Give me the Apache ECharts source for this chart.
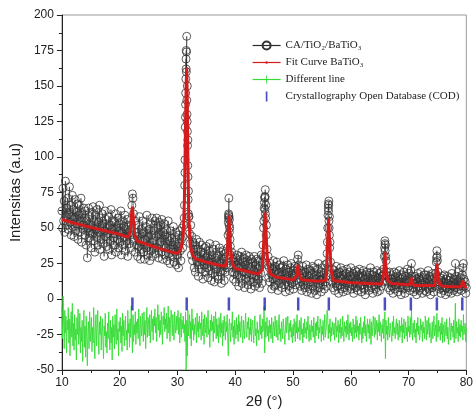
<!DOCTYPE html>
<html><head><meta charset="utf-8">
<script src="https://cdn.jsdelivr.net/npm/echarts@6/dist/echarts.min.js"></script>
<style>html,body{margin:0;padding:0;background:#fff}#c{width:476px;height:414px}</style>
</head><body><div id="c"></div>
<script>
// Observed intensity, 2theta from 10 to 80 in 0.1 steps (one row per degree)
const obsStart = 10, obsStep = 0.1;
const obsY = [
62,50,78,55,69,47,83,58,64,52,
71,49,60,79,54,66,45,58,73,51,
63,44,57,70,48,61,53,67,42,59,
66,47,55,71,40,60,52,49,64,57,
45,62,38,55,29,50,64,43,58,47,
52,36,61,46,65,41,55,33,59,49,
44,63,38,54,47,66,35,57,42,51,
60,39,53,30,48,62,44,56,37,50,
46,58,35,52,41,63,31,49,55,43,
38,54,46,60,33,50,42,57,36,48,
53,40,62,31,47,55,38,51,44,59,
34,49,41,56,30,46,52,39,45,36,
52,66,74,71,60,42,55,33,47,38,
44,30,52,37,58,41,28,49,35,46,
55,33,47,28,42,51,36,59,31,44,
38,49,27,53,34,45,57,30,41,36,
48,55,32,44,57,36,50,29,46,54,
40,52,33,56,28,47,38,53,31,45,
36,49,27,44,55,32,41,25,48,35,
43,30,38,51,26,40,33,47,24,37,
31,45,22,39,48,34,27,42,50,36,
44,52,66,98,137,162,185,150,112,76,
58,46,39,52,31,44,27,40,35,22,
38,19,31,42,26,35,16,29,40,24,
33,21,38,27,14,32,24,36,19,29,
37,22,30,15,34,26,39,20,28,13,
31,18,35,24,12,29,38,21,27,16,
30,14,26,36,19,33,11,25,34,20,
28,13,32,19,24,30,22,36,54,71,
56,42,31,24,33,19,28,14,26,18,
29,12,24,31,17,27,9,22,30,15,
23,33,11,26,19,29,8,24,14,31,
18,27,10,25,30,13,22,7,28,17,
26,12,20,30,9,24,16,28,11,21,
14,27,8,23,18,31,11,26,38,50,
64,72,77,66,52,35,24,30,15,22,
12,25,18,7,21,14,27,9,19,23,
10,20,26,13,6,18,24,11,16,22,
19,8,23,14,27,10,17,5,21,12,
15,24,9,19,6,22,13,25,11,17,
20,7,16,23,10,18,13,22,28,31,
24,17,9,20,12,6,18,23,10,15,
8,19,13,24,5,17,21,11,16,7,
20,12,4,18,23,9,15,22,6,14,
17,3,21,11,25,8,16,13,19,5,
14,22,10,18,7,24,12,16,9,32,
50,64,69,58,40,26,18,12,21,8,
15,20,6,17,11,23,9,18,13,4,
19,10,16,22,7,14,20,5,17,12,
8,18,13,21,6,15,11,19,9,16,
22,7,14,10,18,4,16,12,20,8,
13,19,6,17,11,21,9,15,5,18,
10,16,20,7,14,3,17,12,19,9,
15,6,18,11,22,8,13,17,4,14,
19,10,16,7,13,20,5,15,11,18,
6,14,19,9,16,12,17,21,30,41,
38,27,19,12,16,8,14,19,6,12,
17,9,14,4,12,19,7,15,10,18,
11,16,5,13,20,8,14,3,17,10,
15,7,19,12,4,16,9,13,21,8,
12,18,6,14,20,25,16,8,13,5,
11,16,7,14,3,12,18,9,15,6,
13,19,8,11,4,15,10,17,6,12,
17,5,14,9,20,7,12,16,3,10,
14,8,18,11,5,15,9,18,26,34,
27,19,12,7,15,10,4,13,8,16,
6,12,17,9,3,14,8,16,11,5,
13,7,15,10,4,18,9,12,6,14,
10,25,8,16,5,12,19,7,13,9,
15,6,11,17,22,25,14,9,12,4,
8
];
// Extra observed points recorded densely across the peaks
const obsPeakExtra = [
[31.15,57],[31.25,80],[31.3,89],[31.35,121],[31.38,128],[31.42,145],[31.45,155],[31.48,169],
[31.52,175],[31.55,160],[31.57,174],[31.62,140],[31.65,130],[31.68,125],[31.72,118],[31.75,108],
[31.78,94],[31.82,86],[31.85,70],[31.88,60],[31.95,58],
[38.75,45],[38.82,57],[38.85,60],[38.88,59],[38.92,58],[38.95,52],[38.98,47],[39.05,50],[39.15,37],
[44.85,30],[44.95,55],[45.05,68],[45.12,71],[45.15,63],[45.18,72],[45.22,60],[45.25,57],[45.35,45],
[55.85,25],[55.95,40],[56.05,59],[56.12,67],[56.15,62],[56.18,66],[56.22,55],[56.25,50],[56.3,45],[56.35,36],
[65.85,36],[65.92,39],[65.95,34],[66.05,30],
[74.85,29],[74.95,30]
];
// Fitted BaTiO3 curve
const fitCurve = [
[10,56],[12,53.5],[14,51.5],[16,49.5],[18,47.5],[20,45.5],[21.5,43.5],[21.8,47],[22.0,58],[22.2,65],
[22.4,55],[22.6,45],[23,41],[25,38],[27,35.5],[29,33],[30,32],[30.6,35],[31,45],[31.2,70],
[31.35,110],[31.5,150],[31.6,163],[31.7,140],[31.8,100],[31.95,60],[32.2,38],[32.6,31],[33,28.5],[35,26],
[37,24],[38.3,23],[38.6,30],[38.8,50],[38.9,59],[39.0,52],[39.2,35],[39.5,25],[40,21.5],[42,19.5],
[44,17.5],[44.7,21],[44.95,42],[45.15,61],[45.35,45],[45.6,26],[46,18],[47,15.5],[50,13.5],[50.6,16],
[50.85,24],[51.1,17],[51.5,13.5],[54,12.5],[55.7,13],[55.95,35],[56.15,57],[56.35,40],[56.6,20],[57,13],
[60,11.5],[65.4,10.5],[65.7,18],[65.9,33],[66.1,22],[66.4,13],[67,11],[70.2,10],[70.45,15],[70.7,11],
[71,9.5],[74.5,9.5],[74.75,18],[74.9,25],[75.1,16],[75.4,10],[76,9],[79.1,8.5],[79.35,13],[79.6,10],[80,7.5]
];
// Difference line, same 2theta grid as obsY
const diffY = [
-5,-28,2,-18,-35,-8,-24,-12,-38,-15,
-22,-6,-31,-14,-40,-19,-9,-27,-3,-33,
-17,-36,-11,-29,-21,-43,-13,-25,-7,-32,
-26,-10,-38,-20,-30,-15,-44,-23,-8,-34,
-19,-41,-12,-28,-47,-22,-16,-35,-9,-30,
-24,-13,-37,-20,-31,-6,-27,-42,-18,-11,
-33,-21,-8,-29,-39,-16,-25,-12,-36,-22,
-14,-30,-42,-19,-26,-10,-34,-23,-38,-17,
-28,-9,-24,-36,-15,-31,-20,-43,-12,-27,
-18,-35,-11,-25,-32,-7,-29,-21,-40,-16,
-23,-13,-31,-19,-37,-10,-26,-15,-33,-20,
-12,-29,-22,-36,-8,-24,-17,-34,-14,-27,
-5,-21,-38,-11,-30,-18,-25,-9,-32,-16,
-24,-14,-28,-7,-22,-33,-12,-19,-26,-10,
-20,-30,-9,-25,-15,-35,-18,-6,-27,-13,
-17,-26,-11,-31,-21,-8,-23,-14,-29,-12,
-19,-7,-24,-13,-30,-16,-4,-22,-11,-27,
-15,-25,-9,-20,-32,-12,-18,-6,-23,-14,
-21,-10,-28,-16,-5,-24,-13,-30,-17,-8,
-14,-26,-11,-20,-29,-9,-18,-24,-12,-22,
-16,-8,-25,-13,-31,-19,-10,-27,-15,-21,
-12,-24,-18,-30,-9,-50,-15,-40,-8,-26,
-20,-11,-28,-16,-33,-7,-22,-14,-29,-18,
-25,-13,-19,-31,-10,-23,-16,-27,-12,-21,
-17,-29,-9,-22,-26,-14,-32,-11,-20,-24,
-13,-27,-18,-8,-25,-21,-34,-15,-23,-11,
-22,-16,-30,-12,-24,-19,-9,-28,-14,-26,
-18,-31,-13,-21,-27,-10,-24,-17,-33,-15,
-26,-12,-20,-29,-16,-23,-11,-28,-40,-19,
-14,-24,-30,-17,-22,-9,-27,-19,-32,-15,
-21,-28,-13,-25,-18,-30,-11,-23,-16,-27,
-19,-12,-26,-31,-15,-22,-28,-17,-10,-24,
-27,-16,-21,-13,-29,-20,-25,-14,-30,-18,
-15,-23,-31,-19,-12,-26,-21,-33,-16,-24,
-22,-29,-17,-11,-25,-19,-28,-14,-23,-18,
-5,-38,-16,-27,-21,-13,-26,-19,-30,-15,
-24,-18,-28,-13,-22,-31,-16,-20,-26,-12,
-19,-27,-15,-23,-29,-17,-11,-25,-21,-30,
-16,-22,-28,-14,-20,-26,-32,-18,-13,-24,
-25,-12,-21,-29,-17,-23,-15,-27,-20,-31,
-18,-26,-14,-22,-30,-16,-24,-11,-28,-20,
-23,-15,-29,-19,-13,-25,-21,-31,-17,-27,
-14,-24,-20,-28,-16,-22,-12,-26,-30,-18,
-21,-29,-15,-23,-19,-27,-13,-25,-31,-17,
-26,-16,-22,-12,-28,-20,-24,-14,-18,-30,
-19,-25,-15,-29,-21,-11,-27,-23,-17,-8,
-12,-28,-18,-24,-14,-30,-20,-26,-16,-22,
-25,-17,-29,-21,-13,-27,-19,-23,-15,-31,
-18,-24,-14,-28,-20,-26,-12,-22,-30,-16,
-23,-19,-27,-15,-25,-11,-21,-29,-17,-24,
-16,-26,-20,-30,-14,-22,-28,-18,-24,-12,
-27,-15,-23,-19,-29,-17,-25,-13,-21,-31,
-20,-28,-16,-24,-12,-26,-18,-30,-22,-14,
-24,-18,-28,-14,-22,-32,-16,-26,-20,-12,
-19,-27,-13,-25,-21,-15,-29,-17,-23,-11,
-26,-16,-22,-30,-18,-24,-14,-28,-20,-9,
-42,-15,-25,-19,-29,-13,-23,-27,-17,-21,
-22,-30,-16,-26,-12,-24,-20,-28,-18,-14,
-25,-17,-29,-21,-15,-27,-19,-23,-13,-31,
-18,-24,-14,-28,-22,-16,-26,-20,-30,-12,
-23,-19,-27,-13,-25,-8,-21,-29,-17,-24,
-15,-27,-21,-31,-17,-23,-13,-25,-19,-29,
-26,-14,-22,-18,-30,-16,-24,-20,-28,-12,
-19,-29,-15,-25,-21,-13,-27,-17,-23,-31,
-24,-16,-28,-20,-12,-26,-22,-18,-30,-10,
-21,-27,-15,-23,-19,-29,-17,-25,-13,-31,
-18,-24,-30,-16,-22,-26,-14,-28,-20,-32,
-25,-13,-21,-29,-17,-23,-19,-27,-15,-31,
-22,-3,-28,-16,-24,-20,-30,-14,-26,-18,
-27,-15,-23,-19,-29,-11,-25,-21,-17,-30,
-20
];
// COD reference reflections (2theta) and the level they are drawn at
const codPos = [22.2, 31.6, 38.9, 45.1, 50.9, 56.2, 65.9, 70.4, 74.9, 79.3];
const codLevel = -3.5;
const xTicks = {min: 10, max: 80, interval: 10};
const yTicks = {min: -50, max: 200, interval: 25};
const names = ['CA/TiO\u2082/BaTiO\u2083', 'Fit Curve BaTiO\u2083', 'Different line', 'Crystallography Open Database (COD)'];

const gridX = i => +(obsStart + i * obsStep).toFixed(2);
const obsData = obsY.map((v, i) => [gridX(i), v]).concat(obsPeakExtra).sort((a, b) => a[0] - b[0]);
const diffData = diffY.map((v, i) => [gridX(i), v]);
const codData = codPos.map(x => [x, codLevel]);

const axisCol = '#222';
const sans = 'Liberation Sans, Arial, sans-serif';
function axisCommon() {
  return {
    type: 'value',
    axisLine: {show: true, onZero: false, lineStyle: {color: axisCol, width: 1}},
    axisTick: {show: true, inside: false, length: 5, lineStyle: {color: axisCol}},
    minorTick: {show: true, splitNumber: 2, length: 3, lineStyle: {color: axisCol}},
    splitLine: {show: false},
    axisLabel: {color: axisCol, fontSize: 12, fontFamily: sans},
    nameLocation: 'middle',
    nameTextStyle: {color: axisCol, fontSize: 15, fontFamily: sans}
  };
}
const chart = echarts.init(document.getElementById('c'), null, {renderer: 'canvas'});
chart.setOption({
  animation: false,
  backgroundColor: '#fff',
  grid: {left: 53, right: 8, top: 15, bottom: 39, show: true, borderColor: '#9a9a9a', borderWidth: 1},
  xAxis: Object.assign(axisCommon(), xTicks, {name: '2\u03b8 (\u00b0)', nameGap: 24,
    axisLabel: {color: axisCol, fontSize: 12, fontFamily: sans, margin: 7}}),
  yAxis: Object.assign(axisCommon(), yTicks, {name: 'Intensitas (a.u)', nameGap: 30,
    axisLabel: {color: axisCol, fontSize: 12, fontFamily: sans, margin: 8}}),
  legend: {
    orient: 'vertical', left: 247, top: 35, itemWidth: 28, itemHeight: 10, itemGap: 6,
    textStyle: {fontFamily: 'Liberation Serif, Times New Roman, serif', fontSize: 11, color: '#222'},
    lineStyle: {width: 1.2},
    data: [
      {name: names[0]}, {name: names[1]}, {name: names[2]},
      {name: names[3], icon: 'path://M0,0h2v12h-2z'}
    ]
  },
  series: [
    {
      name: names[2], type: 'line', data: diffData, z: 1,
      showSymbol: false, symbol: 'path://M0,0 M10,0 M4.5,0h1v10h-1z',
      lineStyle: {color: '#33dd33', width: 0.9}, itemStyle: {color: '#33dd33'},
      silent: true
    },
    {
      name: names[0], type: 'line', data: obsData, z: 2,
      symbol: 'circle', symbolSize: 8, showSymbol: true,
      itemStyle: {color: 'rgba(0,0,0,0)', borderColor: '#333', borderWidth: 0.8},
      lineStyle: {color: '#2a2a2a', width: 0.6},
      silent: true
    },
    {
      name: names[1], type: 'line', data: fitCurve, z: 3,
      showSymbol: false, symbol: 'path://M0,0 M10,10 M3.5,5a1.5,1.5 0 1,0 3,0a1.5,1.5 0 1,0 -3,0',
      lineStyle: {color: '#d41c1c', width: 3}, itemStyle: {color: '#d41c1c'},
      silent: true
    },
    {
      name: names[3], type: 'scatter', data: codData, z: 4,
      symbol: 'rect', symbolSize: [2.5, 13],
      itemStyle: {color: '#1f23b3'}, silent: true
    }
  ]
});
</script></body></html>
